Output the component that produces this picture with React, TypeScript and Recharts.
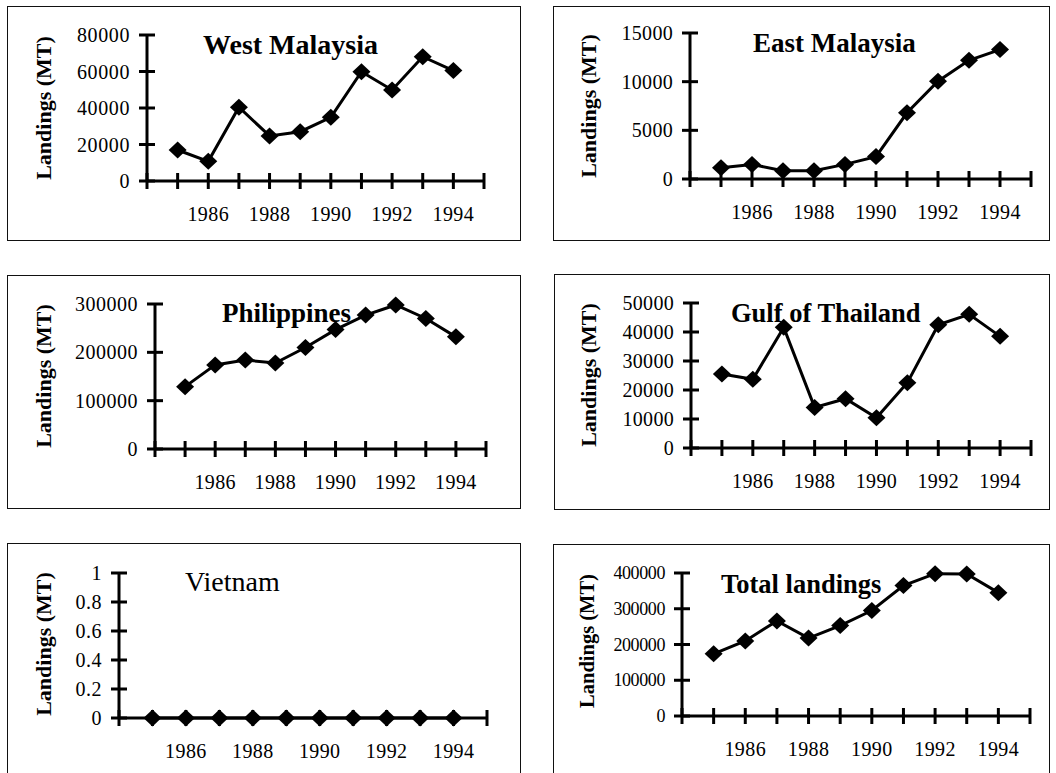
import React from "react";
import { LineChart, Line, XAxis, YAxis } from "recharts";

// Annual landings 1985-1994
const years = [1985, 1986, 1987, 1988, 1989, 1990, 1991, 1992, 1993, 1994];
const xTicks = [1984, 1985, 1986, 1987, 1988, 1989, 1990, 1991, 1992, 1993, 1994, 1995];
const labelledYears = [1986, 1988, 1990, 1992, 1994];

const westMalaysia = [17000, 10800, 40400, 24700, 27000, 34900, 59900, 49900, 68100, 60500];
const eastMalaysia = [1150, 1500, 850, 850, 1500, 2300, 6800, 10050, 12200, 13300];
const philippines = [129000, 174000, 184000, 178000, 210000, 247000, 277000, 298000, 270000, 232000];
const gulfOfThailand = [25500, 23700, 41600, 14000, 17000, 10400, 22500, 42500, 46100, 38500];
const vietnam = [0, 0, 0, 0, 0, 0, 0, 0, 0, 0];
const totalLandings = [174000, 210000, 266000, 218000, 253000, 295000, 365000, 398000, 397000, 345000];

const westTicks = [0, 20000, 40000, 60000, 80000];
const eastTicks = [0, 5000, 10000, 15000];
const philTicks = [0, 100000, 200000, 300000];
const gulfTicks = [0, 10000, 20000, 30000, 40000, 50000];
const vietTicks = [0, 0.2, 0.4, 0.6, 0.8, 1];
const totalTicks = [0, 100000, 200000, 300000, 400000];

const FONT = '"Liberation Serif", "Times New Roman", serif';
const TICK = 8;
const TICK_GAP = 9;
const YW = 60;
const XH = 40;

const toRows = (values: number[]) => years.map((year, i) => ({ year, value: values[i] }));

// page coordinates: box, plot area (1984..1995 x, 0..max y), title, y label centre
const panels = [
  {
    title: "West Malaysia", bold: true, titleX: 203, titleY: 54, titleSize: 28,
    values: westMalaysia, ticks: westTicks,
    box: [7, 6, 514, 235], plot: [147, 484, 35, 181], labelC: [43, 108],
    tickFont: 20, tickSpacing: 0.6, ylabFont: 22,
  },
  {
    title: "East Malaysia", bold: true, titleX: 753, titleY: 52, titleSize: 27,
    values: eastMalaysia, ticks: eastTicks,
    box: [553, 6, 497, 235], plot: [690, 1031, 33, 179], labelC: [588, 106],
    tickFont: 20, tickSpacing: 0.3, ylabFont: 22,
  },
  {
    title: "Philippines", bold: true, titleX: 222, titleY: 322, titleSize: 27,
    values: philippines, ticks: philTicks,
    box: [7, 275, 514, 234], plot: [155, 486, 304, 449], labelC: [43, 376],
    tickFont: 20, tickSpacing: 0.5, ylabFont: 22,
  },
  {
    title: "Gulf of Thailand", bold: true, titleX: 731, titleY: 322, titleSize: 26.5,
    values: gulfOfThailand, ticks: gulfTicks,
    box: [554, 274, 496, 236], plot: [691, 1031, 303, 448], labelC: [588, 375],
    tickFont: 20, tickSpacing: 0.3, ylabFont: 22,
  },
  {
    title: "Vietnam", bold: false, titleX: 185, titleY: 591, titleSize: 28,
    values: vietnam, ticks: vietTicks,
    box: [7, 543, 514, 232], plot: [119, 487, 573, 718], labelC: [43, 644],
    tickFont: 20, tickSpacing: 0.5, ylabFont: 22,
  },
  {
    title: "Total landings", bold: true, titleX: 721, titleY: 593, titleSize: 26.5,
    values: totalLandings, ticks: totalTicks,
    box: [553, 544, 497, 231], plot: [682, 1030, 573, 716], labelC: [587, 641],
    tickFont: 18, tickSpacing: -0.4, ylabFont: 20.5,
  },
];

const fmtY = (v: number) => (v > 0 && v < 1 ? v.toFixed(1) : String(v));

function Diamond(props: any) {
  const { cx, cy, index } = props;
  if (cx == null || cy == null) return <g key={index} />;
  const rx = 9;
  const ry = 8.5;
  return (
    <path
      key={index}
      d={`M${cx},${cy - ry} L${cx + rx},${cy} L${cx},${cy + ry} L${cx - rx},${cy} Z`}
      fill="#000"
    />
  );
}

function Panel({ p }: { p: (typeof panels)[number] }) {
  const [bx, by, bw, bh] = p.box;
  const [x0, x1, yTop, yBot] = p.plot;
  const margin = {
    left: x0 - bx - YW,
    right: bx + bw - x1,
    top: yTop - by,
    bottom: by + bh - yBot - XH,
  };
  const max = p.ticks[p.ticks.length - 1];

  const yTick = (t: any) => {
    const ax = t.x + TICK + TICK_GAP;
    return (
      <g>
        <line x1={ax - TICK} x2={ax + TICK} y1={t.y} y2={t.y} stroke="#000" strokeWidth={3} />
        <text
          x={t.x}
          y={t.y}
          textAnchor="end"
          dominantBaseline="central"
          fontFamily={FONT}
          fontSize={p.tickFont}
          letterSpacing={p.tickSpacing}
          fill="#000"
        >
          {fmtY(t.payload.value)}
        </text>
      </g>
    );
  };

  const xTick = (t: any) => {
    const ay = t.y - TICK;
    const show = labelledYears.includes(t.payload.value);
    return (
      <g>
        <line x1={t.x} x2={t.x} y1={ay - TICK} y2={ay + TICK} stroke="#000" strokeWidth={3} />
        {show && (
          <text
            x={t.x}
            y={ay + 33}
            textAnchor="middle"
            dominantBaseline="central"
            fontFamily={FONT}
            fontSize={20}
            letterSpacing={0.4}
            fill="#000"
          >
            {t.payload.value}
          </text>
        )}
      </g>
    );
  };

  const noBottom = by + bh > 770;

  return (
    <div style={{ position: "absolute", left: bx, top: by, width: bw, height: bh }}>
      <LineChart width={bw} height={bh} data={toRows(p.values)} margin={margin}>
        <XAxis
          dataKey="year"
          type="number"
          domain={[1984, 1995]}
          ticks={xTicks}
          interval={0}
          height={XH}
          tickSize={TICK}
          tickMargin={0}
          tickLine={false}
          axisLine={{ stroke: "#000", strokeWidth: 3 }}
          tick={xTick}
        />
        <YAxis
          type="number"
          domain={[0, max]}
          ticks={p.ticks}
          interval={0}
          width={YW}
          tickSize={TICK}
          tickMargin={TICK_GAP}
          tickLine={false}
          axisLine={{ stroke: "#000", strokeWidth: 3 }}
          tick={yTick}
        />
        <Line
          type="linear"
          dataKey="value"
          stroke="#000"
          strokeWidth={3}
          dot={Diamond}
          activeDot={false}
          isAnimationActive={false}
        />
      </LineChart>
      <svg
        width={bw}
        height={bh}
        style={{ position: "absolute", left: 0, top: 0, pointerEvents: "none" }}
      >
        <text
          x={p.titleX - bx}
          y={p.titleY - by}
          fontFamily={FONT}
          fontSize={p.titleSize}
          fontWeight={p.bold ? "bold" : "normal"}
          fill="#000"
        >
          {p.title}
        </text>
        <text
          x={p.labelC[0] - bx}
          y={p.labelC[1] - by}
          transform={`rotate(-90 ${p.labelC[0] - bx} ${p.labelC[1] - by})`}
          textAnchor="middle"
          dominantBaseline="central"
          fontFamily={FONT}
          fontSize={p.ylabFont}
          fontWeight="bold"
          fill="#000"
        >
          Landings (MT)
        </text>
      </svg>
      <div
        style={{
          position: "absolute",
          left: 0,
          top: 0,
          width: bw,
          height: bh,
          boxSizing: "border-box",
          border: "1px solid #111",
          borderBottom: noBottom ? "none" : "1px solid #111",
          pointerEvents: "none",
        }}
      />
    </div>
  );
}

export default function App() {
  return (
    <div
      style={{
        position: "absolute",
        left: 0,
        top: 0,
        width: 1056,
        height: 773,
        background: "#fff",
        overflow: "hidden",
      }}
    >
      {panels.map((p) => (
        <Panel key={p.title} p={p} />
      ))}
    </div>
  );
}
